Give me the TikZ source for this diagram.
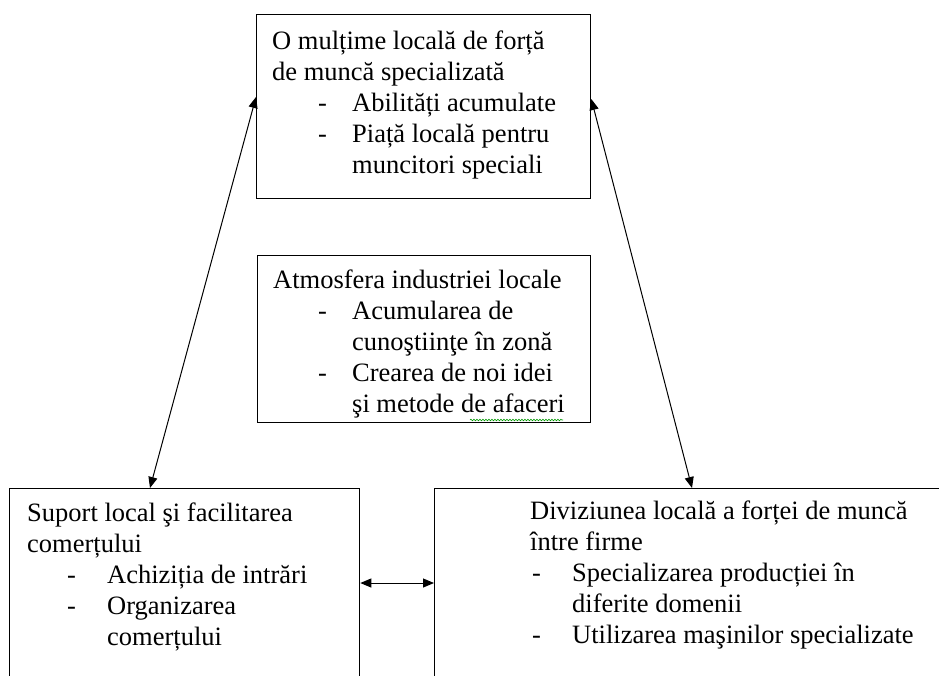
\documentclass[tikz,border=0pt]{standalone}
\usepackage{fontspec}
\setmainfont{Liberation Serif}
\usetikzlibrary{arrows.meta,decorations.pathmorphing}
\begin{document}
\begin{tikzpicture}[x=1pt,y=-1pt,
  boxst/.style={draw=black,line width=1.3pt,anchor=north west,inner sep=0pt},
  txt/.style={anchor=north west,inner sep=0pt,align=left,font=\fontsize{26.5}{31}\selectfont},
  conn/.style={line width=1pt,{Triangle[length=11pt,width=9pt]}-{Triangle[length=11pt,width=9pt]}}]
\useasboundingbox (0,0) rectangle (939,675);
\clip (0,0) rectangle (939,675);
\fill[white] (0,0) rectangle (939,675);
% boxes
\node[boxst,minimum width=334pt,minimum height=184pt] (top) at (256,14) {};
\node[boxst,minimum width=333pt,minimum height=167pt] (mid) at (257,255) {};
\node[boxst,minimum width=350pt,minimum height=230pt] (bl) at (9,488) {};
\node[boxst,minimum width=520pt,minimum height=230pt] (br) at (434,488) {};
% texts
\node[txt] (toptxt) at (272,31) {O mulțime locală de forță\\de muncă specializată\\
\hspace*{46pt}\makebox[34pt][l]{-}Abilități acumulate\\
\hspace*{46pt}\makebox[34pt][l]{-}Piață locală pentru\\
\hspace*{80pt}muncitori speciali};
\node[txt] (midtxt) at (273,270) {Atmosfera industriei locale\\
\hspace*{45pt}\makebox[34pt][l]{-}Acumularea de\\
\hspace*{79pt}cunoştiinţe în zonă\\
\hspace*{45pt}\makebox[34pt][l]{-}Crearea de noi idei\\
\hspace*{79pt}şi metode de afaceri};
\node[txt] (bltxt) at (27,503) {Suport local şi facilitarea\\comerțului\\
\hspace*{40pt}\makebox[40pt][l]{-}Achiziția de intrări\\
\hspace*{40pt}\makebox[40pt][l]{-}Organizarea\\
\hspace*{80pt}comerțului};
\node[txt] (brtxt) at (530,501) {Diviziunea locală a forței de muncă\\între firme\\
\hspace*{2pt}\makebox[40pt][l]{-}Specializarea producției în\\
\hspace*{42pt}diferite domenii\\
\hspace*{2pt}\makebox[40pt][l]{-}Utilizarea maşinilor specializate};
% spell-check squiggle
\coordinate (sq1) at (470,420);
\coordinate (sq2) at (563,420);
\draw[green!60!black,line width=0.6pt,decorate,decoration={snake,amplitude=0.8pt,segment length=3pt}] (sq1) -- (sq2);
% connectors
\draw[conn] ([yshift=-83pt]top.north west) -- ([xshift=141pt]bl.north west);
\draw[conn] ([yshift=-85pt]top.north east) -- ([xshift=258pt]br.north west);
\draw[conn] ([yshift=-95pt]bl.north east) -- ([yshift=-95pt]br.north west);
\end{tikzpicture}
\end{document}
